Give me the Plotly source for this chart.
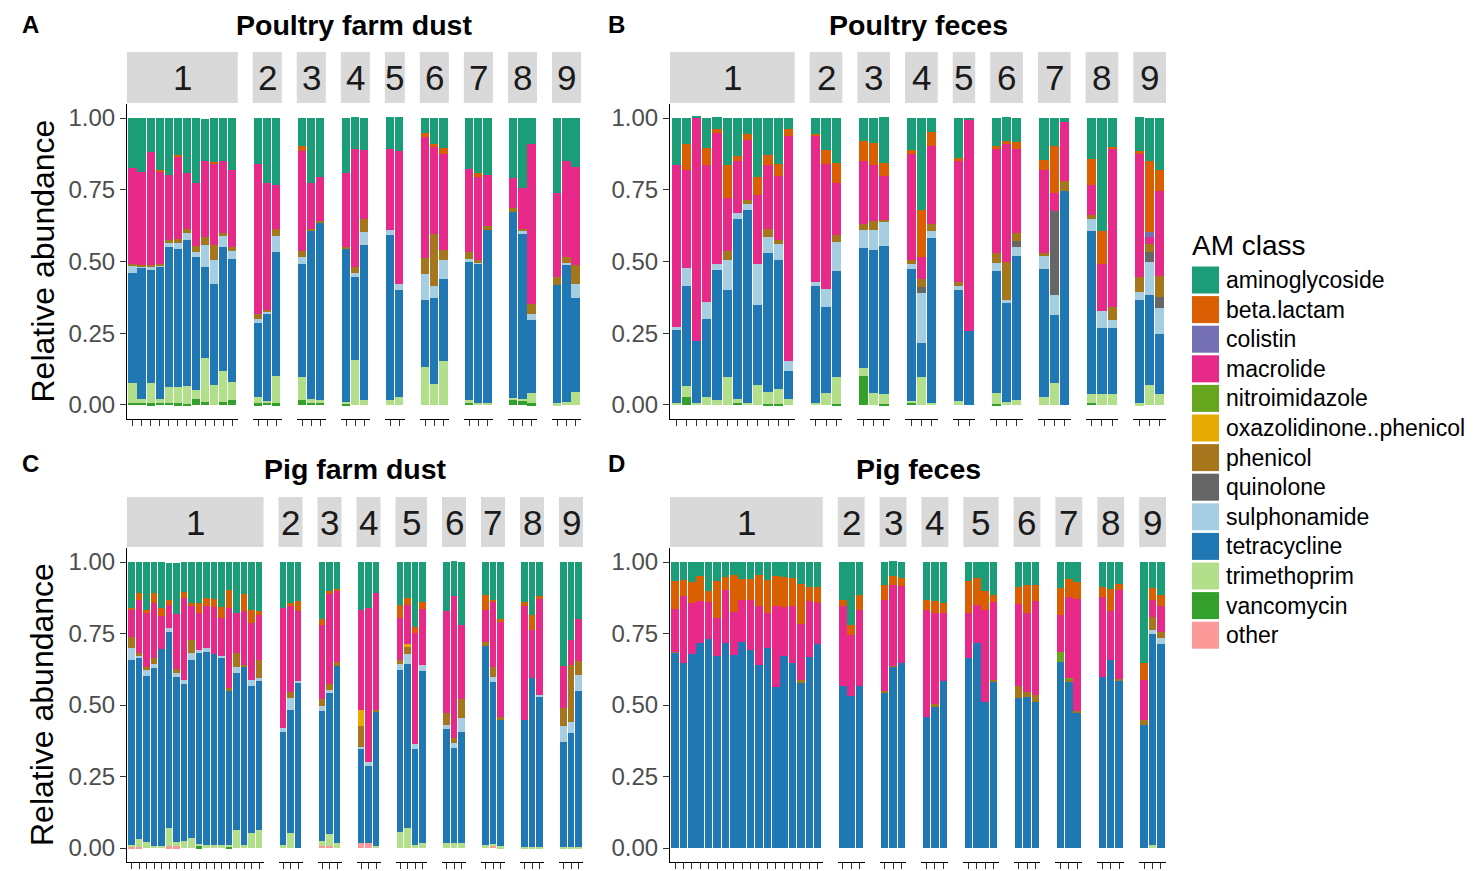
import plotly.graph_objects as go

# ---------------- data ----------------
classes = ["aminoglycoside", "beta.lactam", "colistin", "macrolide", "nitroimidazole",
           "oxazolidinone..phenicol", "phenicol", "quinolone", "sulphonamide",
           "tetracycline", "trimethoprim", "vancomycin", "other"]
class_colors = ["#1b9e77", "#d95f02", "#7570b3", "#e7298a", "#66a61e", "#e6ab02",
                "#a6761d", "#666666", "#a6cee3", "#1f78b4", "#b2df8a", "#33a02c", "#fb9a99"]

facet_labels = ["1", "2", "3", "4", "5", "6", "7", "8", "9"]
A_facet_sizes = [12, 3, 3, 3, 2, 3, 3, 3, 3]
B_facet_sizes = [12, 3, 3, 3, 2, 3, 3, 3, 3]
C_facet_sizes = [18, 3, 3, 3, 4, 3, 3, 3, 3]
D_facet_sizes = [18, 3, 3, 3, 4, 3, 3, 3, 3]

# Panel A: Poultry farm dust
A_aminoglycoside = [.175, .187, .119, .181, .198, .128, .190, .228, .149, .152, .152, .181,
                    .161, .228, .233, .099, .228, .204, .190, .111, .111, .111, .117,
                    .053, .091, .105, .179, .193, .198, .208, .245, .093, .263, .152, .173]
A_beta_lactam = [0, 0, 0, .006, 0, .008, 0, 0, 0, .009, 0, 0,
                 0, 0, 0, .018, 0, 0, 0, 0, 0, 0, 0,
                 .014, .008, .020, 0, .012, 0, 0, 0, 0, 0, 0, 0]
A_macrolide = [.333, .324, .392, .321, .228, .284, .195, .219, .263, .282, .251, .268,
               .522, .441, .155, .347, .158, .154, .259, .411, .243, .282, .463,
               .420, .303, .336, .288, .292, .179, .107, .140, .557, .292, .335, .341]
A_phenicol = [.008, .005, .006, .005, .012, .015, .015, .020, .027, .053, .009, .014,
              .018, .005, .022, .021, .008, .007, .006, .021, .043, 0, 0,
              .056, .181, .035, .023, .006, .012, .012, .008, .033, .029, .019, .064]
A_sulphonamide = [.025, .007, .012, .007, .012, .023, .023, .018, .078, .084, .037, .030,
                  .015, .009, .056, .026, 0, 0, 0, .014, .047, .018, .023,
                  .091, .044, .064, .012, .008, 0, 0, .012, .021, 0, .006, .050]
A_tetracycline = [.382, .455, .393, .459, .488, .481, .510, .464, .317, .350, .432, .426,
                  .257, .303, .432, .394, .587, .617, .534, .289, .539, .574, .371,
                  .233, .300, .288, .481, .482, .603, .648, .573, .257, .411, .478, .327]
A_trimethoprim = [.070, .014, .072, .014, .055, .055, .064, .029, .153, .070, .109, .063,
                  .022, .006, .096, .078, .012, .009, .005, .156, .018, .018, .028,
                  .133, .072, .152, .009, .008, .008, .007, .008, .034, .006, .011, .046]
A_vancomycin = [.008, .008, .006, .008, .008, .006, .002, .022, .011, 0, .011, .018,
                .006, .008, .006, .018, .008, .008, .006, 0, 0, 0, 0,
                0, 0, 0, .008, 0, 0, .018, .014, .006, 0, 0, 0]

# Panel B: Poultry feces
B_aminoglycoside = [.163, .093, .008, .105, .039, .163, .132, .056, .204, .128, .161, .039,
                    .055, .111, .158, .082, .085, .158, .113, .321, .049, .140, .008,
                    .099, .082, .085, .146, .097, .015, .144, .393, .099, .117, .149, .181]
B_beta_lactam = [0, .090, 0, .058, .014, .113, .020, .020, .064, .035, .041, .026,
                 .007, .050, .070, .068, .078, .047, .012, .166, .048, .006, 0,
                 .008, .006, .023, .035, .163, 0, .090, .114, .009, .006, .247, .072]
B_colistin = [0, 0, 0, 0, 0, 0, 0, 0, 0, 0, 0, 0,
              0, 0, 0, 0, 0, 0, 0, 0, 0, 0, 0,
              0, 0, 0, 0, 0, 0, 0, 0, 0, 0, .018, 0]
B_macrolide = [.566, .340, .778, .478, .459, .187, .179, .210, .239, .222, .224, .784,
               .510, .434, .181, .221, .195, .152, .371, .074, .271, .426, .735,
               .363, .417, .294, .289, .063, .203, .105, .163, .548, .434, .026, .298]
B_phenicol = [0, 0, 0, 0, 0, .030, 0, .014, 0, .029, .014, 0,
              0, 0, .023, .021, .030, .006, .012, .029, .027, .012, 0,
              .035, .130, .026, .012, 0, .035, .012, 0, .047, .053, .027, .071]
B_quinolone = [0, 0, 0, 0, 0, 0, 0, 0, 0, 0, 0, 0,
               0, 0, 0, 0, 0, 0, 0, .021, 0, 0, 0,
               0, 0, .021, 0, .295, 0, 0, 0, 0, 0, .035, .040]
B_sulphonamide = [.009, .064, 0, .058, .018, .107, .023, .021, .146, .058, .056, .035,
                  .012, .064, .102, .061, .072, .085, .018, .175, .022, .015, 0,
                  .028, .011, .032, .046, .067, 0, .043, .061, .028, .025, .114, .091]
B_tetracycline = [.253, .347, .214, .272, .454, .303, .627, .671, .277, .482, .449, .097,
                  .408, .300, .371, .418, .496, .516, .461, .119, .575, .387, .257,
                  .426, .344, .502, .447, .240, .747, .569, .231, .231, .361, .315, .210]
B_trimethoprim = [.008, .039, .008, .028, .018, .096, .012, .008, .070, .041, .050, .020,
                  .008, .041, .093, .029, .043, .033, .006, .096, .008, .014, 0,
                  .036, .012, .018, .026, .075, 0, .029, .037, .037, .006, .069, .037]
B_vancomycin = [0, .028, 0, 0, 0, 0, .008, 0, 0, .005, .005, 0,
                0, 0, .003, .101, 0, .005, .008, 0, 0, 0, 0,
                .005, 0, 0, 0, 0, 0, .008, 0, 0, 0, 0, 0]

# Panel C: Pig farm dust
C_aminoglycoside = [.160, .109, .167, .109, .161, .132, .179, .103, .144, .144, .126, .130,
                    .156, .097, .179, .112, .167, .173,
                    .161, .144, .138, .199, .103, .093, .167, .161, .109, .150, .126, .225, .140,
                    .173, .120, .220, .117, .132, .199, .140, .185, .120, .366, .272, .202]
C_beta_lactam = [.005, .023, .012, .035, .029, .018, 0, .023, .009, .035, .029, .026,
                 .041, .064, 0, .061, .044, .012,
                 0, .012, .035, .021, .006, .007, 0, 0, 0, .047, .023, .023, .025,
                 0, 0, 0, .050, .008, .012, .015, .053, .008, 0, 0, 0]
C_macrolide = [.098, .187, .187, .193, .115, .078, .193, .284, .119, .129, .146, .164,
               .132, .281, .138, .187, .201, .158,
               .418, .298, .243, .259, .319, .248, .350, .540, .409, .146, .138, .389, .195,
               .356, .497, .259, .113, .225, .333, .397, .167, .336, .146, .088, .146]
C_oxazolidinone = [0, 0, 0, 0, 0, 0, 0, 0, 0, 0, 0, 0, 0, 0, 0, 0, 0, 0,
                   0, 0, 0, 0, 0, 0, .056, 0, 0, 0, .008, 0, 0,
                   0, 0, 0, 0, 0, 0, 0, 0, 0, 0, 0, 0]
C_phenicol = [.039, .009, .012, .018, 0, 0, .015, 0, .044, 0, 0, 0,
              0, .006, .049, .008, 0, .064,
              0, .023, 0, .023, .020, .014, .072, 0, .006, .015, .027, 0, 0,
              .041, .018, .068, .012, .035, .009, 0, 0, 0, .064, .199, .049]
C_sulphonamide = [.041, .008, .021, .014, 0, .013, .012, .014, .026, .012, .012, 0,
                  .008, 0, .021, 0, .020, .008,
                  .016, .041, .006, .019, .012, 0, .009, .012, 0, .020, .035, .016, .021,
                  .014, .018, .049, 0, .020, 0, 0, 0, .006, .055, .041, .054]
C_tetracycline = [.646, .632, .581, .623, .687, .687, .578, .552, .622, .667, .675, .668,
                  .651, .540, .550, .620, .516, .522,
                  .393, .429, .578, .456, .491, .620, .327, .270, .470, .567, .572, .334, .602,
                  .398, .331, .386, .699, .564, .442, .444, .592, .526, .366, .397, .546]
C_trimethoprim = [.007, .029, .020, .008, .008, .064, .015, .023, .035, .008, .012, .012,
                  .012, .006, .063, .012, .051, .063,
                  .012, .054, 0, .016, .043, .018, 0, 0, .007, .056, .070, .012, .018,
                  .018, .018, .018, .009, .007, .006, .004, .004, .004, .004, .004, .004]
C_vancomycin = [0, 0, 0, 0, 0, 0, 0, 0, 0, .006, 0, 0, 0, .006, 0, 0, 0, 0,
                0, 0, 0, 0, 0, 0, 0, 0, 0, 0, 0, 0, 0,
                0, 0, 0, 0, 0, 0, 0, 0, 0, 0, 0, 0]
C_other = [.004, .003, 0, 0, 0, .006, .006, 0, 0, 0, 0, 0, 0, 0, 0, 0, 0, 0,
           0, 0, 0, .007, .007, 0, .018, .018, 0, 0, 0, 0, 0,
           0, 0, 0, 0, .008, 0, 0, 0, 0, 0, 0, 0]

# Panel D: Pig feces
D_aminoglycoside = [.065, .064, .070, .048, .103, .068, .053, .046, .058, .058, .047, .062,
                    .050, .053, .056, .076, .089, .085,
                    .132, .223, .117, .082, .053, .056, .132, .138, .144, .065, .056, .103, .114,
                    .089, .082, .079, .091, .058, .070, .085, .093, .077, .354, .089, .114]
D_beta_lactam = [.099, .056, .071, .087, .039, .129, .044, .131, .076, .074, .109, .115,
                 .103, .103, .097, .140, .049, .056,
                 .021, .032, .050, .050, .029, .029, .035, .041, .035, .113, .093, .064, .026,
                 .058, .097, .056, .096, .062, .058, .035, .077, .020, .058, .043, .041]
D_macrolide = [.149, .234, .180, .147, .129, .132, .187, .149, .144, .175, .205, .125,
               .283, .173, .199, .196, .193, .145,
               .280, .213, .265, .319, .284, .269, .374, .319, .237, .158, .134, .321, .272,
               .285, .275, .329, .126, .284, .393, .280, .172, .312, .140, .058, .090]
D_nitroimidazole = [0, 0, 0, 0, 0, 0, 0, 0, 0, 0, 0, 0, 0, 0, 0, 0, 0, 0,
                    0, 0, 0, 0, 0, 0, 0, 0, 0, 0, 0, 0, 0,
                    0, 0, 0, .035, .006, 0, 0, 0, 0, 0, 0, 0]
D_phenicol = [.003, 0, 0, 0, 0, 0, 0, 0, 0, 0, 0, 0, 0, 0, 0, .009, 0, 0,
              0, 0, 0, .008, .003, 0, 0, .008, 0, 0, 0, 0, .006,
              .042, .018, .023, 0, .010, .008, 0, 0, .007, .018, .047, .019]
D_sulphonamide = [0, 0, 0, 0, 0, 0, 0, 0, 0, 0, 0, 0, 0, 0, 0, 0, 0, 0,
                  0, 0, 0, 0, 0, 0, 0, 0, 0, 0, 0, 0, 0,
                  0, 0, 0, 0, 0, 0, 0, 0, 0, 0, .015, .023]
D_tetracycline = [.683, .646, .678, .718, .730, .671, .716, .675, .722, .692, .640, .698,
                  .564, .671, .648, .578, .669, .713,
                  .567, .533, .568, .541, .634, .646, .459, .494, .584, .664, .716, .512, .582,
                  .526, .529, .512, .652, .579, .471, .599, .658, .584, .430, .738, .713]
D_trimethoprim = [0, 0, 0, 0, 0, 0, 0, 0, 0, 0, 0, 0, 0, 0, 0, 0, 0, 0,
                  0, 0, 0, 0, 0, 0, 0, 0, 0, 0, 0, 0, 0,
                  0, 0, 0, 0, 0, 0, 0, 0, 0, 0, .009, 0]

panel_data = {
    "A": {"aminoglycoside": A_aminoglycoside, "beta.lactam": A_beta_lactam,
          "macrolide": A_macrolide, "phenicol": A_phenicol, "sulphonamide": A_sulphonamide,
          "tetracycline": A_tetracycline, "trimethoprim": A_trimethoprim,
          "vancomycin": A_vancomycin},
    "B": {"aminoglycoside": B_aminoglycoside, "beta.lactam": B_beta_lactam,
          "colistin": B_colistin, "macrolide": B_macrolide, "phenicol": B_phenicol,
          "quinolone": B_quinolone, "sulphonamide": B_sulphonamide,
          "tetracycline": B_tetracycline, "trimethoprim": B_trimethoprim,
          "vancomycin": B_vancomycin},
    "C": {"aminoglycoside": C_aminoglycoside, "beta.lactam": C_beta_lactam,
          "macrolide": C_macrolide, "oxazolidinone..phenicol": C_oxazolidinone,
          "phenicol": C_phenicol, "sulphonamide": C_sulphonamide,
          "tetracycline": C_tetracycline, "trimethoprim": C_trimethoprim,
          "vancomycin": C_vancomycin, "other": C_other},
    "D": {"aminoglycoside": D_aminoglycoside, "beta.lactam": D_beta_lactam,
          "macrolide": D_macrolide, "nitroimidazole": D_nitroimidazole,
          "phenicol": D_phenicol, "sulphonamide": D_sulphonamide,
          "tetracycline": D_tetracycline, "trimethoprim": D_trimethoprim},
}
panel_sizes = {"A": A_facet_sizes, "B": B_facet_sizes, "C": C_facet_sizes, "D": D_facet_sizes}
panel_titles = {"A": "Poultry farm dust", "B": "Poultry feces", "C": "Pig farm dust", "D": "Pig feces"}

# ---------------- layout geometry (page pixels) ----------------
OFF = 8  # page body margin
W, H = 1478 - OFF, 871 - OFF
FONT = "Liberation Sans, Arial, Helvetica, sans-serif"


def px(x):
    return (x - OFF) / W


def py(y):
    return 1 - (y - OFF) / H


geom = {
    "A": dict(x0=127, x1=581, top=103.7, bot=419.3, s0=52, s1=103, lx=30, ly=9, lanchor="top", ty=25),
    "B": dict(x0=670, x1=1166, top=103.7, bot=419.3, s0=52, s1=103, lx=616, ly=9, lanchor="top", ty=25),
    "C": dict(x0=127, x1=583, top=547.7, bot=862.3, s0=497, s1=547, lx=30, ly=464, lanchor="middle", ty=469),
    "D": dict(x0=670, x1=1166, top=547.7, bot=862.3, s0=497, s1=547, lx=616, ly=464, lanchor="middle", ty=469),
}
GAP = 15

fig = go.Figure()
layout = dict(width=W, height=H, margin=dict(l=0, r=0, t=0, b=0),
              paper_bgcolor="white", plot_bgcolor="white", barmode="stack",
              showlegend=False, font=dict(family=FONT, color="#1a1a1a"))
shapes, annotations = [], []

for p_i, key in enumerate(["A", "B", "C", "D"]):
    g = geom[key]
    sizes = panel_sizes[key]
    units = sum(n + 0.2 for n in sizes)
    scale = (g["x1"] - g["x0"] - GAP * (len(sizes) - 1)) / units
    yid = p_i + 1
    yname = "yaxis" if yid == 1 else f"yaxis{yid}"
    first_x = p_i * 9 + 1
    layout[yname] = dict(domain=[py(g["bot"]), py(g["top"])], range=[-0.05, 1.05],
                         anchor="x" if first_x == 1 else f"x{first_x}",
                         tickvals=[0, 0.25, 0.5, 0.75, 1],
                         ticktext=["0.00", "0.25", "0.50", "0.75", "1.00"],
                         ticks="outside", ticklen=6, tickcolor="#333333",
                         showline=True, linecolor="black", linewidth=1.2,
                         showgrid=False, zeroline=False,
                         tickfont=dict(size=24, color="#4d4d4d", family=FONT))
    xcur = g["x0"]
    start = 0
    for f_i, n in enumerate(sizes):
        w = (n + 0.2) * scale
        xid = p_i * 9 + f_i + 1
        xname = "xaxis" if xid == 1 else f"xaxis{xid}"
        layout[xname] = dict(domain=[px(xcur), px(xcur + w)], range=[-0.6, n - 0.4],
                             anchor="y" if yid == 1 else f"y{yid}",
                             tickvals=list(range(n)), showticklabels=False,
                             ticks="outside", ticklen=6, tickcolor="#333333",
                             showline=True, linecolor="black", linewidth=1.2,
                             showgrid=False, zeroline=False)
        # strip
        shapes.append(dict(type="rect", xref="paper", yref="paper",
                           x0=px(xcur), x1=px(xcur + w), y0=py(g["s1"]), y1=py(g["s0"]),
                           fillcolor="#d9d9d9", line=dict(width=0), layer="below"))
        annotations.append(dict(text=facet_labels[f_i], xref="paper", yref="paper",
                                x=px(xcur + w / 2), y=py((g["s0"] + g["s1"]) / 2),
                                showarrow=False, xanchor="center", yanchor="middle",
                                font=dict(size=35, color="#1a1a1a", family=FONT)))
        # bars: stack from bottom class (last) to top class (first)
        for c_i in range(len(classes) - 1, -1, -1):
            cname = classes[c_i]
            series = panel_data[key].get(cname)
            if series is None:
                continue
            vals = series[start:start + n]
            if not any(v > 0 for v in vals):
                continue
            fig.add_trace(go.Bar(x=list(range(n)), y=vals, name=cname,
                                 marker=dict(color=class_colors[c_i], line=dict(width=0)),
                                 width=0.9,
                                 xaxis="x" if xid == 1 else f"x{xid}",
                                 yaxis="y" if yid == 1 else f"y{yid}",
                                 showlegend=False))
        xcur += w + GAP
        start += n
    # panel title and letter
    annotations.append(dict(text=f"<b>{panel_titles[key]}</b>", xref="paper", yref="paper",
                            x=px((g["x0"] + g["x1"]) / 2), y=py(g["ty"]), showarrow=False,
                            xanchor="center", yanchor="middle",
                            font=dict(size=28.5, color="black", family=FONT)))
    annotations.append(dict(text=f"<b>{key}</b>", xref="paper", yref="paper",
                            x=px(g["lx"]), y=py(g["ly"]), showarrow=False,
                            xanchor="center", yanchor=g["lanchor"],
                            font=dict(size=24, color="black", family=FONT)))
    if key in ("A", "C"):
        annotations.append(dict(text="Relative abundance", xref="paper", yref="paper",
                                x=px(42), y=py((g["top"] + g["bot"]) / 2), showarrow=False,
                                textangle=-90, xanchor="center", yanchor="middle",
                                font=dict(size=32, color="black", family=FONT)))

# custom legend
annotations.append(dict(text="AM class", xref="paper", yref="paper", x=px(1190), y=py(245),
                        showarrow=False, xanchor="left", yanchor="middle",
                        font=dict(size=28, color="black", family=FONT)))
for i, (cname, col) in enumerate(zip(classes, class_colors)):
    yc = 280 + 29.6 * i
    shapes.append(dict(type="rect", xref="paper", yref="paper",
                       x0=px(1192), x1=px(1219), y0=py(yc + 13.5), y1=py(yc - 13.5),
                       fillcolor=col, line=dict(width=0)))
    annotations.append(dict(text=cname, xref="paper", yref="paper", x=px(1224), y=py(yc),
                            showarrow=False, xanchor="left", yanchor="middle",
                            font=dict(size=23, color="black", family=FONT)))

layout["shapes"] = shapes
layout["annotations"] = annotations
fig.update_layout(**layout)
fig.write_html("out.html")
